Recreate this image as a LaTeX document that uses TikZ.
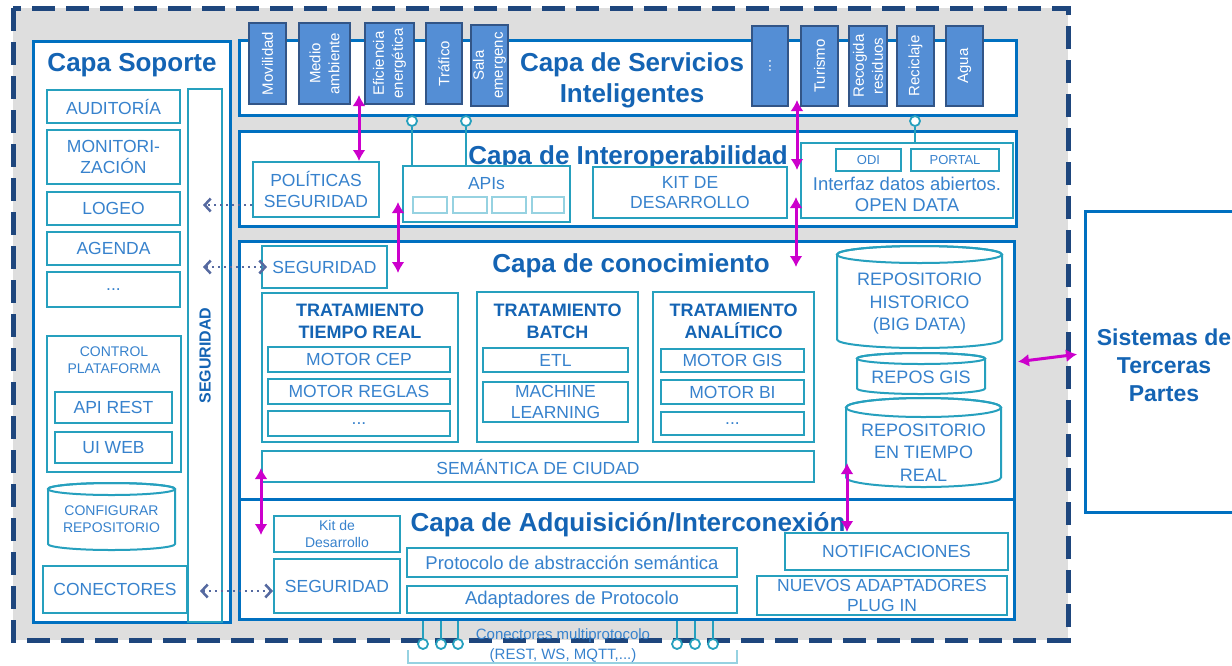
\documentclass[tikz,border=0pt]{standalone}
\usepackage{fontspec}
\setmainfont{Liberation Sans}
\usetikzlibrary{arrows.meta}

\definecolor{azul}{RGB}{0,112,192}
\definecolor{azultit}{RGB}{20,100,180}
\definecolor{turq}{RGB}{38,160,190}
\definecolor{turqclaro}{RGB}{150,210,225}
\definecolor{textcaja}{RGB}{55,130,205}
\definecolor{fucsia}{RGB}{204,0,204}
\definecolor{marino}{RGB}{30,70,125}
\definecolor{gris}{RGB}{222,222,222}
\definecolor{tilefill}{RGB}{84,142,213}
\definecolor{tiledraw}{RGB}{50,85,135}
\definecolor{punteo}{RGB}{85,105,160}

% cilindro: nombre, esquina arriba-izq, esquina abajo-der, radio de la elipse
\newcommand{\cilindro}[6]{%
  \coordinate (#1) at ({(#2+#4)/2},{(#3+#5)/2});
  \draw[repo] (#2,{#3+#6}) -- (#2,{#5-#6})
    arc[start angle=180, end angle=360, x radius={(#4-#2)/2*1pt}, y radius=#6pt]
    -- (#4,{#3+#6})
    arc[start angle=0, end angle=180, x radius={(#4-#2)/2*1pt}, y radius=#6pt] -- cycle;
  \draw[repo] ({(#2+#4)/2},{#3+#6}) ellipse[x radius={(#4-#2)/2*1pt}, y radius=#6pt];
}

\begin{document}
\begin{tikzpicture}[x=1pt,y=-1pt,
    capa/.style={draw=azul, line width=3pt, fill=white, inner sep=0pt},
    caja/.style={draw=turq, line width=2pt, fill=white, text=textcaja, align=center, inner sep=0pt, font=\fontsize{17.5}{20.5}\selectfont},
    cajita/.style={draw=turqclaro, line width=1.5pt, fill=white, inner sep=0pt},
    titulo/.style={text=azultit, align=center, inner sep=0pt, font=\bfseries\fontsize{26}{31}\selectfont},
    subtit/.style={text=azultit, align=center, inner sep=0pt, font=\bfseries\fontsize{18}{22}\selectfont},
    texto/.style={text=textcaja, align=center, inner sep=0pt, font=\fontsize{17.5}{20.5}\selectfont},
    chico/.style={font=\fontsize{14}{17}\selectfont},
    tile/.style={draw=tiledraw, line width=1.5pt, fill=tilefill, text=white, rotate=90, align=center, inner sep=0pt, font=\fontsize{15}{19}\selectfont},
    repo/.style={draw=turq, line width=2pt},
    lolli/.style={circle, draw=turq, line width=1.8pt, fill=white, minimum size=10pt, inner sep=0pt},
    conector/.style={draw=turq, line width=1.8pt},
    flecha/.style={draw=fucsia, line width=3pt, {Latex[length=11pt,width=13pt]}-{Latex[length=11pt,width=13pt]}},
    punteada/.style={draw=punteo, line width=2.5pt, dash pattern=on 2.5pt off 3.5pt},
    gancho/.tip={Straight Barb[length=6pt,width=13pt]}
  ]
    \useasboundingbox (0,0) rectangle (1232,665);

    % fondo de la plataforma
    \fill[gris] (13,8) rectangle (1068,640);
    \draw[marino, line width=5pt, dash pattern=on 23pt off 11pt] (13,8) rectangle (1068,640);

    % capas
    \node[capa, minimum width=197pt, minimum height=581pt] (soporte) at (131.5,331.5) {};
    \node[capa, minimum width=777pt, minimum height=75pt] (servicios) at (627.5,77.5) {};
    \node[capa, minimum width=777pt, minimum height=95pt] (interop) at (627.5,178.5) {};
    \node[capa, minimum width=775pt, minimum height=258pt] (conoc) at (626.5,370) {};
    \node[capa, minimum width=775pt, minimum height=120pt] (adq) at (626.5,559) {};
    \node[capa, minimum width=158pt, minimum height=301pt] (terceros) at (1164,361.5) {};

    \node[titulo] (titsop) at (132,65) {Capa Soporte};
    \node[titulo] (titser) at (632,80.5) {Capa de Servicios\\Inteligentes};
    \node[titulo] (titint) at (628,158) {Capa de Interoperabilidad};
    \node[titulo] (titcon) at (631,266) {Capa de conocimiento};
    \node[titulo] (titadq) at (628,525) {Capa de Adquisición/Interconexión};
    \node[titulo, font=\bfseries\fontsize{23}{28}\selectfont] (tittre) at (1164,365) {Sistemas de\\Terceras\\Partes};

    % capa soporte
    \node[caja, minimum width=133pt, minimum height=33pt] (auditoria) at (113.5,106.5) {AUDITORÍA};
    \node[caja, minimum width=133pt, minimum height=54pt] (monitor) at (113.5,157) {MONITORI-\\ZACIÓN};
    \node[caja, minimum width=133pt, minimum height=33pt] (logeo) at (113.5,208.5) {LOGEO};
    \node[caja, minimum width=133pt, minimum height=33pt] (agenda) at (113.5,248.5) {AGENDA};
    \node[caja, minimum width=133pt, minimum height=35pt] (otros) at (113.5,289.5) {...};
    \node[caja, minimum width=134pt, minimum height=136pt] (control) at (114,404) {};
    \node[texto, chico] (controltxt) at (114,360) {CONTROL\\PLATAFORMA};
    \node[caja, minimum width=117pt, minimum height=31pt] (apirest) at (113.5,407.5) {API REST};
    \node[caja, minimum width=117pt, minimum height=31pt] (uiweb) at (113.5,447.5) {UI WEB};
    \cilindro{config}{48}{483}{175}{550}{6}
    \node[texto, chico] (configtxt) at (111.5,519) {CONFIGURAR\\REPOSITORIO};
    \node[caja, minimum width=144pt, minimum height=47pt] (conectores) at (115,589.5) {CONECTORES};
    \node[caja, rotate=90, minimum width=533pt, minimum height=34pt, text=azultit,
      font=\bfseries\fontsize{16}{18}\selectfont] (segbar) at (205,355.5) {SEGURIDAD};

    % capa de servicios
    \node[tile, minimum width=81pt, minimum height=37pt] (movilidad) at (267.5,63.5) {Movilidad};
    \node[tile, minimum width=81pt, minimum height=51pt] (medio) at (324.5,63.5) {Medio\\ambiente};
    \node[tile, minimum width=81pt, minimum height=49pt] (eficiencia) at (389.5,63.5) {Eficiencia\\energética};
    \node[tile, minimum width=81pt, minimum height=36pt] (trafico) at (444,63.5) {Tráfico};
    \node[tile, minimum width=81pt, minimum height=37pt] (sala) at (489.5,65.5) {Sala\\emergenc};
    \node[tile, minimum width=80pt, minimum height=36pt] (otros2) at (770,66) {...};
    \node[tile, minimum width=80pt, minimum height=37pt] (turismo) at (819.5,66) {Turismo};
    \node[tile, minimum width=80pt, minimum height=38pt] (recogida) at (868,66) {Recogida\\residuos};
    \node[tile, minimum width=80pt, minimum height=37pt] (reciclaje) at (915.5,66) {Reciclaje};
    \node[tile, minimum width=80pt, minimum height=37pt] (agua) at (964.5,66) {Agua};

    % capa de interoperabilidad
    \node[caja, minimum width=126pt, minimum height=55pt] (politicas) at (316,189.5) {POLÍTICAS\\SEGURIDAD};
    \node[caja, minimum width=167pt, minimum height=56pt] (apis) at (486.5,194) {};
    \node[texto] (apistxt) at (486.5,184) {APIs};
    \node[cajita, minimum width=34pt, minimum height=16pt] (api1) at (430,205) {};
    \node[cajita, minimum width=34pt, minimum height=16pt] (api2) at (470,205) {};
    \node[cajita, minimum width=34pt, minimum height=16pt] (api3) at (509,205) {};
    \node[cajita, minimum width=32pt, minimum height=16pt] (api4) at (548,205) {};
    \node[caja, minimum width=194pt, minimum height=51pt] (kit) at (690,192.5) {KIT DE\\DESARROLLO};
    \node[caja, minimum width=212pt, minimum height=75pt] (opendata) at (907,180.5) {};
    \node[caja, font=\fontsize{13}{15}\selectfont, minimum width=65pt, minimum height=22pt] (odi) at (868.5,160) {ODI};
    \node[caja, font=\fontsize{13}{15}\selectfont, minimum width=88pt, minimum height=22pt] (portal) at (955,160) {PORTAL};
    \node[texto, font=\fontsize{18.5}{21}\selectfont] (opentxt) at (907,194) {Interfaz datos abiertos.\\OPEN DATA};

    \node[lolli] (l1) at (412,121) {};
    \node[lolli] (l2) at (466,121) {};
    \node[lolli] (l3) at (915,121) {};
    \draw[conector] (l1) -- (l1 |- apis.north);
    \draw[conector] (l2) -- (l2 |- apis.north);
    \draw[conector] (l3) -- (l3 |- opendata.north);

    % capa de conocimiento
    \node[caja, minimum width=125pt, minimum height=42pt] (segcon) at (324.5,267) {SEGURIDAD};
    \node[caja, minimum width=196pt, minimum height=149pt] (tiemporeal) at (360,367.5) {};
    \node[subtit] (trttxt) at (360,321) {TRATAMIENTO\\TIEMPO REAL};
    \node[caja, minimum width=182pt, minimum height=25pt] (cep) at (359,359.5) {MOTOR CEP};
    \node[caja, minimum width=182pt, minimum height=25pt] (reglas) at (359,391.5) {MOTOR REGLAS};
    \node[caja, minimum width=182pt, minimum height=25pt] (otros3) at (359,423.5) {...};
    \node[caja, minimum width=161pt, minimum height=150pt] (batch) at (557.5,367) {};
    \node[subtit] (batchtxt) at (557.5,321) {TRATAMIENTO\\BATCH};
    \node[caja, minimum width=145pt, minimum height=24pt] (etl) at (555.5,360) {ETL};
    \node[caja, minimum width=145pt, minimum height=40pt] (ml) at (555.5,402) {MACHINE\\LEARNING};
    \node[caja, minimum width=161pt, minimum height=150pt] (analitico) at (733.5,367) {};
    \node[subtit] (analtxt) at (733.5,321) {TRATAMIENTO\\ANALÍTICO};
    \node[caja, minimum width=143pt, minimum height=23pt] (gis) at (732.5,360.5) {MOTOR GIS};
    \node[caja, minimum width=143pt, minimum height=24pt] (bi) at (732.5,392) {MOTOR BI};
    \node[caja, minimum width=143pt, minimum height=23pt] (otros4) at (732.5,423.5) {...};
    \node[caja, minimum width=552pt, minimum height=31pt] (semantica) at (538,466.5) {SEMÁNTICA DE CIUDAD};
    \cilindro{historico}{837}{246}{1002}{348}{8.5}
    \node[texto, font=\fontsize{18}{22.5}\selectfont] (histtxt) at (919.5,304) {REPOSITORIO\\HISTORICO\\(BIG DATA)};
    \cilindro{reposgis}{857}{353}{985}{394}{5.5}
    \node[texto, font=\fontsize{18}{22.5}\selectfont] (gistxt) at (921,377) {REPOS GIS};
    \cilindro{repreal}{846}{398}{1001}{487}{9.5}
    \node[texto, font=\fontsize{18}{22.5}\selectfont] (realtxt) at (923.5,452.5) {REPOSITORIO\\EN TIEMPO\\REAL};

    % capa de adquisicion
    \node[caja, chico, minimum width=126pt, minimum height=36pt] (kitadq) at (337,534) {Kit de\\Desarrollo};
    \node[caja, minimum width=126pt, minimum height=54pt] (segadq) at (337,586) {SEGURIDAD};
    \node[caja, font=\fontsize{18.5}{21}\selectfont, minimum width=330pt, minimum height=29pt] (protocolo) at (572,562.5) {Protocolo de abstracción semántica};
    \node[caja, font=\fontsize{18.5}{21}\selectfont, minimum width=330pt, minimum height=27pt] (adaptadores) at (572,599.5) {Adaptadores de Protocolo};
    \node[caja, minimum width=223pt, minimum height=37pt] (notif) at (896.5,551.5) {NOTIFICACIONES};
    \node[caja, minimum width=250pt, minimum height=39pt] (nuevos) at (882,595.5) {NUEVOS ADAPTADORES\\PLUG IN};

    % conectores multiprotocolo
    \draw[turqclaro, line width=2pt] (408,650) -- (408,663) -- (737,663) -- (737,650);
    \node[lolli] (b1) at (423,644) {};
    \node[lolli] (b2) at (441,644) {};
    \node[lolli] (b3) at (458,644) {};
    \node[lolli] (b4) at (677,644) {};
    \node[lolli] (b5) at (695,644) {};
    \node[lolli] (b6) at (713,644) {};
    \draw[conector] (b1) -- (b1 |- adq.south);
    \draw[conector] (b2) -- (b2 |- adq.south);
    \draw[conector] (b3) -- (b3 |- adq.south);
    \draw[conector] (b4) -- (b4 |- adq.south);
    \draw[conector] (b5) -- (b5 |- adq.south);
    \draw[conector] (b6) -- (b6 |- adq.south);
    \node[texto, font=\fontsize{15}{20}\selectfont] (multitxt) at (563,646) {Conectores multiprotocolo\\(REST, WS, MQTT,...)};

    % flechas entre capas
    \coordinate (f1) at (359,95);
    \coordinate (f2a) at (398,202);
    \coordinate (f2b) at (398,273);
    \coordinate (f3a) at (797,100);
    \coordinate (f3b) at (797,170);
    \coordinate (f4a) at (796,197);
    \coordinate (f4b) at (796,267);
    \coordinate (f5a) at (261,468);
    \coordinate (f5b) at (261,535);
    \coordinate (f6) at (847,463);
    \draw[flecha] (f1) -- (f1 |- politicas.north);
    \draw[flecha] (f2a) -- (f2b);
    \draw[flecha] (f3a) -- (f3b);
    \draw[flecha] (f4a) -- (f4b);
    \draw[flecha] (f5a) -- (f5b);
    \draw[flecha] (f6) -- (f6 |- notif.north);
    \draw[flecha, shorten <=2.5pt, shorten >=6.5pt] ([yshift=8pt]conoc.east) -- ([yshift=8pt]terceros.west);

    % accesos a seguridad
    \coordinate (p1) at ([yshift=-15.5pt]politicas.west);
    \coordinate (p3) at ([yshift=-5pt]segadq.west);
    \draw[punteada, -gancho] (p1) -- ([xshift=-2pt]segbar.center |- p1);
    \draw[punteada, gancho-gancho] ([xshift=-2pt]segbar.center |- segcon.west) -- ([xshift=6pt]segcon.west);
    \draw[punteada, gancho-gancho] ([xshift=-5pt]segbar.center |- p3) -- (p3);
\end{tikzpicture}
\end{document}
